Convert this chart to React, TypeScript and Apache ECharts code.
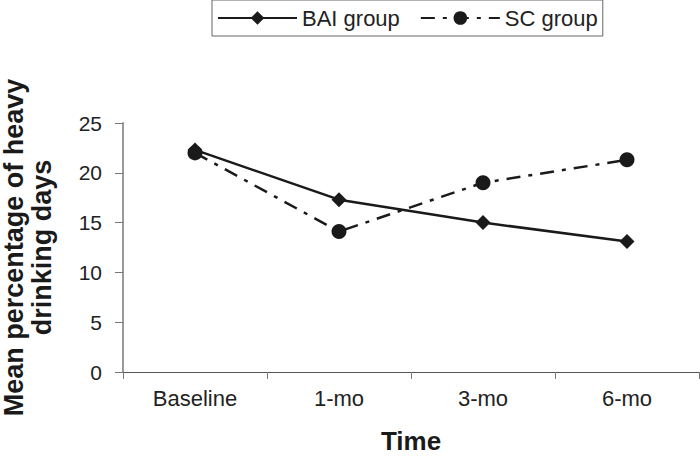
import React, { useEffect, useRef } from "react";
import * as echarts from "echarts";

const categories = ["Baseline", "1-mo", "3-mo", "6-mo"];
const baiValues = [22.3, 17.3, 15.0, 13.1];
const scValues = [22.0, 14.1, 19.0, 21.3];
const seriesNames = ["BAI group", "SC group"];
const yTitle = "Mean percentage of heavy\ndrinking days";
const xTitle = "Time";

const FONT = "'Liberation Sans', Arial, sans-serif";

export default function App() {
  const ref = useRef<HTMLDivElement>(null);
  useEffect(() => {
    document.body.style.margin = "0";
    const chart = echarts.init(ref.current!, null, { renderer: "svg" });
    chart.setOption({
      animation: false,
      backgroundColor: "#ffffff",
      textStyle: { fontFamily: FONT },
      grid: {
        left: 123,
        right: 1,
        top: 123,
        bottom: 84,
        containLabel: false,
        outerBoundsMode: "none",
      },
      legend: {
        left: 212,
        top: 0,
        padding: [6, 5, 6, 5],
        borderColor: "#666",
        borderWidth: 1,
        itemWidth: 79,
        itemHeight: 17,
        itemGap: 20,
        textStyle: { fontFamily: FONT, fontSize: 22, color: "#222", lineHeight: 24 },
        data: seriesNames,
      },
      xAxis: {
        type: "category",
        data: categories,
        boundaryGap: true,
        axisLine: { lineStyle: { color: "#555", width: 1 } },
        axisTick: { show: true, length: 7, lineStyle: { color: "#777" } },
        axisLabel: { fontFamily: FONT, fontSize: 22, color: "#222", margin: 15 },
        name: xTitle,
        nameLocation: "middle",
        nameGap: 58,
        nameTextStyle: {
          fontFamily: FONT,
          fontSize: 26,
          fontWeight: "bold",
          color: "#1a1a1a",
          lineHeight: 22,
        },
      },
      yAxis: {
        type: "value",
        min: 0,
        max: 25,
        interval: 5,
        axisLine: { show: true, lineStyle: { color: "#999", width: 2 } },
        axisTick: { show: true, length: 8, lineStyle: { color: "#777" } },
        splitLine: { show: false },
        axisLabel: { fontFamily: FONT, fontSize: 21, color: "#222", margin: 21 },
        name: yTitle,
        nameLocation: "middle",
        nameRotate: 90,
        nameGap: 67,
        nameTextStyle: {
          fontFamily: FONT,
          fontSize: 27,
          fontWeight: "bold",
          color: "#1a1a1a",
          lineHeight: 28,
        },
      },
      series: [
        {
          name: seriesNames[0],
          type: "line",
          data: baiValues,
          symbol: "diamond",
          symbolSize: 15,
          itemStyle: { color: "#1a1a1a" },
          lineStyle: { color: "#1a1a1a", width: 2.5, type: "solid" },
        },
        {
          name: seriesNames[1],
          type: "line",
          data: scValues,
          symbol: "circle",
          symbolSize: 15,
          itemStyle: { color: "#1a1a1a" },
          lineStyle: { color: "#1a1a1a", width: 2.5, type: [14, 8, 4, 8] },
        },
      ],
    });
    return () => chart.dispose();
  }, []);
  return (
    <div
      ref={ref}
      style={{ width: 700, height: 456, position: "fixed", left: 0, top: 0, background: "#fff" }}
    />
  );
}
